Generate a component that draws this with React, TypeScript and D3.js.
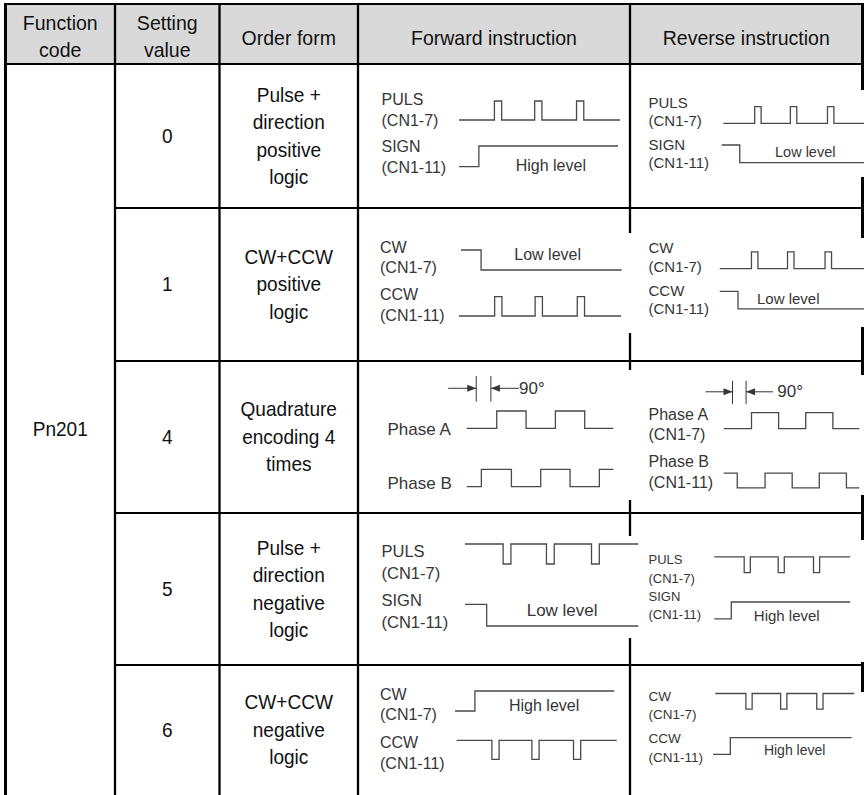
import { curveStepAfter, line, scaleLinear } from 'd3';

// Pn201 pulse-input table: grid + hand-drawn style waveforms.
// Waveform edges are stored as times on a 0–100 span; each panel maps that
// span onto its own pixel box with d3 scales.

const HEADERS = [['Function', 'code'], ['Setting', 'value'], ['Order form'], ['Forward instruction'], ['Reverse instruction']];
const FUNCTION_CODE = 'Pn201';
const SETTING_VALUES = ['0', '1', '4', '5', '6'];
const ORDER_FORMS = [
  ['Pulse +', 'direction', 'positive', 'logic'],
  ['CW+CCW', 'positive', 'logic'],
  ['Quadrature', 'encoding 4', 'times'],
  ['Pulse +', 'direction', 'negative', 'logic'],
  ['CW+CCW', 'negative', 'logic'],
];

// edge times (0–100) of each signal shape
const PULSE_TRAIN = [22, 26.5, 47, 51.5, 73, 77.5];
const LEVEL_STEP = [12.5];
const PHASE_A = [20.5, 40.5, 60.5, 80.5];
const PHASE_B = [10, 30.5, 50.5, 70.5, 90.5];
const PHASE_MARK = [6.5, 16.5];

type Sig = { name: string; pin?: string; edges: number[]; start: number; note?: string };

const FORWARD: Sig[][] = [
  [
    { name: 'PULS', pin: '(CN1-7)', edges: PULSE_TRAIN, start: 0 },
    { name: 'SIGN', pin: '(CN1-11)', edges: LEVEL_STEP, start: 0, note: 'High level' },
  ],
  [
    { name: 'CW', pin: '(CN1-7)', edges: LEVEL_STEP, start: 1, note: 'Low level' },
    { name: 'CCW', pin: '(CN1-11)', edges: PULSE_TRAIN, start: 0 },
  ],
  [
    { name: 'Phase A', edges: PHASE_A, start: 0 },
    { name: 'Phase B', edges: PHASE_B, start: 0 },
  ],
  [
    { name: 'PULS', pin: '(CN1-7)', edges: PULSE_TRAIN, start: 1 },
    { name: 'SIGN', pin: '(CN1-11)', edges: LEVEL_STEP, start: 1, note: 'Low level' },
  ],
  [
    { name: 'CW', pin: '(CN1-7)', edges: LEVEL_STEP, start: 0, note: 'High level' },
    { name: 'CCW', pin: '(CN1-11)', edges: PULSE_TRAIN, start: 1 },
  ],
];

const REVERSE: Sig[][] = [
  [
    { name: 'PULS', pin: '(CN1-7)', edges: PULSE_TRAIN, start: 0 },
    { name: 'SIGN', pin: '(CN1-11)', edges: LEVEL_STEP, start: 1, note: 'Low level' },
  ],
  [
    { name: 'CW', pin: '(CN1-7)', edges: PULSE_TRAIN, start: 0 },
    { name: 'CCW', pin: '(CN1-11)', edges: LEVEL_STEP, start: 1, note: 'Low level' },
  ],
  [
    { name: 'Phase A', pin: '(CN1-7)', edges: PHASE_A, start: 0 },
    { name: 'Phase B', pin: '(CN1-11)', edges: PHASE_B, start: 1 },
  ],
  [
    { name: 'PULS', pin: '(CN1-7)', edges: PULSE_TRAIN, start: 1 },
    { name: 'SIGN', pin: '(CN1-11)', edges: LEVEL_STEP, start: 0, note: 'High level' },
  ],
  [
    { name: 'CW', pin: '(CN1-7)', edges: PULSE_TRAIN, start: 1 },
    { name: 'CCW', pin: '(CN1-11)', edges: LEVEL_STEP, start: 0, note: 'High level' },
  ],
];

// ---- layout ----
const FONT = '"Liberation Sans", Arial, Helvetica, sans-serif';
const INK = '#111';
const WAVE = '#4a4a4a';
const LABEL = '#363636';
const COLS = [5.5, 115, 219.5, 358, 630, 862.5];
const ROWS = [4, 64, 208, 361, 513, 665, 795];

type Trace = { x0: number; x1: number; hi: number; lo: number; nb: number; pb?: number; note?: [number, number] };
type Mark = { y: number; y0: number; y1: number; arrow: number; tx: number; tb: number };
type Panel = { box: [number, number, number, number]; lx: number; font: number; noteFont: number; traces: Trace[]; mark?: Mark };

const FWD_LAYOUT: Panel[] = [
  { box: [370, 85, 255, 95], lx: 381.5, font: 16, noteFont: 16, traces: [
    { x0: 459, x1: 620, hi: 101, lo: 120, nb: 105, pb: 126 },
    { x0: 459, x1: 618, hi: 146, lo: 166.7, nb: 152, pb: 172.5, note: [515.7, 171] },
  ] },
  { box: [370, 233, 268, 100], lx: 380, font: 16, noteFont: 16, traces: [
    { x0: 461, x1: 621.7, hi: 250, lo: 270, nb: 253, pb: 273, note: [514.3, 260] },
    { x0: 459, x1: 621, hi: 296.7, lo: 316, nb: 300, pb: 321 },
  ] },
  { box: [370, 370, 268, 130], lx: 387.5, font: 17, noteFont: 17, traces: [
    { x0: 466.7, x1: 613.3, hi: 411, lo: 428.3, nb: 435 },
    { x0: 466.7, x1: 613.3, hi: 469.3, lo: 486.7, nb: 489.3 },
  ], mark: { y: 388.3, y0: 376, y1: 401.7, arrow: 28, tx: 519, tb: 393.5 } },
  { box: [370, 536, 272, 102], lx: 381.5, font: 16.5, noteFont: 17, traces: [
    { x0: 465, x1: 638.3, hi: 544, lo: 564, nb: 556.7, pb: 578.5 },
    { x0: 465, x1: 638.3, hi: 604.3, lo: 626, nb: 605.7, pb: 627.5, note: [526.7, 616] },
  ] },
  { box: [370, 680, 255, 100], lx: 380, font: 16, noteFont: 16, traces: [
    { x0: 455, x1: 614.3, hi: 691, lo: 711, nb: 700, pb: 719.5, note: [509, 711] },
    { x0: 456.7, x1: 616.7, hi: 740.3, lo: 759.3, nb: 748.3, pb: 768.5 },
  ] },
];

const REV_LAYOUT: Panel[] = [
  { box: [642, 90, 226, 87], lx: 648.5, font: 15, noteFont: 14.5, traces: [
    { x0: 723.3, x1: 866, hi: 106.7, lo: 123.3, nb: 108, pb: 126 },
    { x0: 721.7, x1: 866, hi: 145, lo: 162.7, nb: 150, pb: 167.5, note: [775, 157] },
  ] },
  { box: [642, 238, 226, 89], lx: 648.5, font: 15, noteFont: 15, traces: [
    { x0: 719.7, x1: 864, hi: 251.9, lo: 268.6, nb: 253, pb: 272 },
    { x0: 719.7, x1: 866, hi: 291.4, lo: 308.8, nb: 296, pb: 314, note: [757, 303.8] },
  ] },
  { box: [642, 375, 226, 120], lx: 648.5, font: 16, noteFont: 16, traces: [
    { x0: 723.7, x1: 859.3, hi: 412.6, lo: 428.6, nb: 419.6, pb: 440 },
    { x0: 723.7, x1: 859.3, hi: 473.2, lo: 487.9, nb: 466.5, pb: 487.5 },
  ], mark: { y: 391.8, y0: 380.8, y1: 404.2, arrow: 27, tx: 777.3, tb: 397 } },
  { box: [642, 540, 226, 122], lx: 648.5, font: 13, noteFont: 15, traces: [
    { x0: 714.3, x1: 850.2, hi: 556.9, lo: 572.6, nb: 563.6, pb: 583 },
    { x0: 714.3, x1: 850.2, hi: 602, lo: 618.8, nb: 601, pb: 618.5, note: [753.8, 620.5] },
  ] },
  { box: [642, 692, 226, 110], lx: 648.5, font: 13.5, noteFont: 14, traces: [
    { x0: 715.3, x1: 854.3, hi: 693.5, lo: 709.2, nb: 700.8, pb: 718.5 },
    { x0: 713, x1: 851.6, hi: 737.7, lo: 754.4, nb: 743, pb: 761.5, note: [763.9, 755.4] },
  ] },
];

// condensed table text (scaled on x only)
function T({ x, y, size = 20, sx = 0.93, children }: { x: number; y: number; size?: number; sx?: number; children: string }) {
  return (
    <text x={x / sx} y={y} transform={`scale(${sx},1)`} textAnchor="middle" fill={INK} style={{ fontSize: size }}>
      {children}
    </text>
  );
}

function Wave({ sig, t }: { sig: Sig; t: Trace }) {
  const xs = scaleLinear().domain([0, 100]).range([t.x0, t.x1]);
  const ys = scaleLinear().domain([0, 1]).range([t.lo, t.hi]);
  const pts: [number, number][] = [[0, sig.start]];
  let lvl = sig.start;
  sig.edges.forEach((e) => {
    lvl = 1 - lvl;
    pts.push([e, lvl]);
  });
  pts.push([100, lvl]);
  const d = line<[number, number]>().x((p) => xs(p[0])).y((p) => ys(p[1])).curve(curveStepAfter)(pts);
  return <path d={d ?? undefined} fill="none" stroke={WAVE} strokeWidth={1.3} />;
}

function PhaseMark({ m, t }: { m: Mark; t: Trace }) {
  const xs = scaleLinear().domain([0, 100]).range([t.x0, t.x1]);
  const [a, b] = PHASE_MARK.map((v) => xs(v));
  const head = 9;
  return (
    <g stroke={LABEL} fill={LABEL}>
      <line x1={a} x2={a} y1={m.y0} y2={m.y1} strokeWidth={1} />
      <line x1={b} x2={b} y1={m.y0} y2={m.y1} strokeWidth={1} />
      <line x1={a - m.arrow} x2={a} y1={m.y} y2={m.y} strokeWidth={1} />
      <line x1={b} x2={b + m.arrow} y1={m.y} y2={m.y} strokeWidth={1} />
      <path d={`M${a},${m.y}L${a - head},${m.y - 3.5}L${a - head},${m.y + 3.5}Z`} stroke="none" />
      <path d={`M${b},${m.y}L${b + head},${m.y - 3.5}L${b + head},${m.y + 3.5}Z`} stroke="none" />
      <text x={m.tx} y={m.tb} stroke="none" style={{ fontSize: 17 }}>
        90°
      </text>
    </g>
  );
}

function WavePanel({ sigs, p }: { sigs: Sig[]; p: Panel }) {
  const [bx, by, bw, bh] = p.box;
  return (
    <g>
      <rect x={bx} y={by} width={bw} height={bh} fill="#fff" />
      {sigs.map((s, i) => {
        const t = p.traces[i]!;
        return (
          <g key={i}>
            <text x={p.lx} y={t.nb} fill={LABEL} style={{ fontSize: p.font }}>
              {s.name}
            </text>
            {s.pin && t.pb != null && (
              <text x={p.lx} y={t.pb} fill={LABEL} style={{ fontSize: p.font }}>
                {s.pin}
              </text>
            )}
            <Wave sig={s} t={t} />
            {s.note && t.note && (
              <text x={t.note[0]} y={t.note[1]} fill={LABEL} style={{ fontSize: p.noteFont }}>
                {s.note}
              </text>
            )}
          </g>
        );
      })}
      {p.mark && <PhaseMark m={p.mark} t={p.traces[0]!} />}
    </g>
  );
}

export default function App() {
  const W = 864;
  const H = 795;
  const colMid = COLS.slice(0, -1).map((c, i) => (c + COLS[i + 1]!) / 2);
  const lineGap = 27.5;
  return (
    <svg width={W} height={H} viewBox={`0 0 ${W} ${H}`} style={{ position: 'absolute', left: 0, top: 0, fontFamily: FONT, background: '#fff' }}>
      <rect x={0} y={0} width={W} height={H} fill="#fff" />
      <rect x={COLS[0]} y={ROWS[0]} width={COLS[5]! - COLS[0]!} height={ROWS[1]! - ROWS[0]!} fill="#d9d9d9" />

      {/* grid */}
      <g stroke="#000">
        <line x1={COLS[0]! - 1.5} x2={COLS[5]! + 1.5} y1={ROWS[0]} y2={ROWS[0]} strokeWidth={2.2} />
        <line x1={COLS[0]} x2={COLS[5]} y1={ROWS[1]} y2={ROWS[1]} strokeWidth={2.2} />
        {ROWS.slice(2, 6).map((r) => (
          <line key={r} x1={COLS[1]} x2={COLS[5]} y1={r} y2={r} strokeWidth={2.2} />
        ))}
        {COLS.map((c, i) => (
          <line key={c} x1={c} x2={c} y1={ROWS[0]! - 1} y2={H} strokeWidth={i === 0 || i === COLS.length - 1 ? 3 : 2.3} />
        ))}
      </g>

      {/* header */}
      {HEADERS.map((h, i) =>
        h.length === 2 ? (
          <g key={i}>
            <T x={colMid[i]!} y={30} size={21}>{h[0]!}</T>
            <T x={colMid[i]!} y={57} size={21}>{h[1]!}</T>
          </g>
        ) : (
          <T key={i} x={colMid[i]!} y={45} size={21}>{h[0]!}</T>
        ),
      )}

      {/* body */}
      <T x={colMid[0]!} y={(ROWS[1]! + H) / 2 + 7} size={20.5}>{FUNCTION_CODE}</T>
      {SETTING_VALUES.map((v, i) => {
        const cy = (ROWS[i + 1]! + ROWS[i + 2]!) / 2;
        const form = ORDER_FORMS[i]!;
        return (
          <g key={i}>
            <T x={colMid[1]!} y={cy + 7} size={20.5}>{v}</T>
            {form.map((ln, j) => (
              <T key={j} x={colMid[2]!} y={cy + (j - (form.length - 1) / 2) * lineGap + 7} size={20.5}>
                {ln}
              </T>
            ))}
          </g>
        );
      })}

      {/* waveforms */}
      {FORWARD.map((sigs, i) => (
        <WavePanel key={`f${i}`} sigs={sigs} p={FWD_LAYOUT[i]!} />
      ))}
      {REVERSE.map((sigs, i) => (
        <WavePanel key={`r${i}`} sigs={sigs} p={REV_LAYOUT[i]!} />
      ))}
    </svg>
  );
}
